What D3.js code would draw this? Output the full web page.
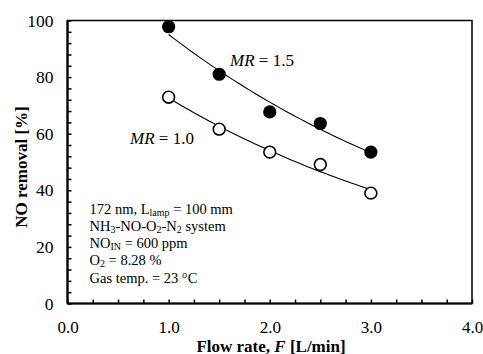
<!DOCTYPE html>
<html>
<head>
<meta charset="utf-8">
<script src="https://cdn.jsdelivr.net/npm/d3@7"></script>
<style>
  body { margin: 0; background: #fff; }
</style>
</head>
<body>
<div id="chart"></div>
<script>
const flowRates = [1.0, 1.5, 2.0, 2.5, 3.0];
const removalMR15 = [97.8, 81.0, 67.7, 63.6, 53.5];
const removalMR10 = [72.9, 61.6, 53.5, 49.1, 39.0];
const xTicks = [0, 1, 2, 3, 4];
const yTicks = [0, 20, 40, 60, 80, 100];

const serif = "'Liberation Serif', 'Times New Roman', serif";
const width = 483, height = 354;
const margin = { top: 20.5, right: 11, bottom: 50.5, left: 67.5 };
const w = width - margin.left - margin.right;
const h = height - margin.top - margin.bottom;

const svg = d3.select("#chart").append("svg")
  .attr("width", width)
  .attr("height", height)
  .style("font-family", serif);

const g = svg.append("g").attr("transform", `translate(${margin.left},${margin.top})`);
const x = d3.scaleLinear().domain([0, 4]).range([0, w]);
const y = d3.scaleLinear().domain([0, 100]).range([h, 0]);

// frame
g.append("rect").attr("width", w).attr("height", h)
  .attr("fill", "none").attr("stroke", "#000").attr("stroke-width", 1.5);

// minor ticks (inward)
g.append("g")
  .attr("transform", `translate(0,${h})`)
  .call(d3.axisTop(x).tickValues(d3.range(0, 4.001, 0.25)).tickSize(4).tickFormat(""))
  .call(a => a.select(".domain").remove())
  .selectAll("line").attr("stroke-width", 1.5);

g.append("g")
  .call(d3.axisRight(y).tickValues(d3.range(0, 100.1, 4)).tickSize(4).tickFormat(""))
  .call(a => a.select(".domain").remove())
  .selectAll("line").attr("stroke-width", 1.5);

// thick left/bottom axis lines
g.append("line").attr("x1", 0).attr("x2", 0).attr("y1", 0).attr("y2", h)
  .attr("stroke", "#000").attr("stroke-width", 2.2);
g.append("line").attr("x1", 0).attr("x2", w).attr("y1", h).attr("y2", h)
  .attr("stroke", "#000").attr("stroke-width", 2.2);

// tick labels
const xAxis = g.append("g")
  .attr("transform", `translate(0,${h})`)
  .call(d3.axisBottom(x).tickValues(xTicks).tickSize(0).tickPadding(17).tickFormat(d3.format(".1f")));
xAxis.select(".domain").remove();
xAxis.attr("font-family", serif).attr("font-size", 17);

const yAxis = g.append("g")
  .call(d3.axisLeft(y).tickValues(yTicks).tickSize(0).tickPadding(14).tickFormat(d3.format("d")));
yAxis.select(".domain").remove();
yAxis.attr("font-family", serif).attr("font-size", 17.5);

// axis titles
const xt = svg.append("text")
  .attr("x", 271).attr("y", 351.5)
  .attr("text-anchor", "middle")
  .style("font-size", "17px").style("font-weight", "bold");
xt.append("tspan").text("Flow rate, ");
xt.append("tspan").style("font-style", "italic").text("F");
xt.append("tspan").text(" [L/min]");

svg.append("text")
  .attr("transform", "translate(26.5,167) rotate(-90)")
  .attr("text-anchor", "middle")
  .style("font-size", "17px").style("font-weight", "bold")
  .text("NO removal [%]");

// exponential trendlines (least squares on log values)
function expFit(xs, ys) {
  const lx = d3.mean(xs), ly = d3.mean(ys, v => Math.log(v));
  const b = d3.sum(xs, (v, i) => (v - lx) * (Math.log(ys[i]) - ly)) / d3.sum(xs, v => (v - lx) ** 2);
  const a = Math.exp(ly - b * lx);
  return t => a * Math.exp(b * t);
}
const line = d3.line().x(d => x(d[0])).y(d => y(d[1]));
[removalMR15, removalMR10].forEach(vals => {
  const f = expFit(flowRates, vals);
  const pts = d3.range(0, 41).map(i => {
    const t = flowRates[0] + (flowRates[flowRates.length - 1] - flowRates[0]) * i / 40;
    return [t, f(t)];
  });
  g.append("path").attr("d", line(pts))
    .attr("fill", "none").attr("stroke", "#000").attr("stroke-width", 1.1);
});

// markers
g.selectAll(".mr15").data(flowRates).enter().append("circle")
  .attr("cx", d => x(d)).attr("cy", (d, i) => y(removalMR15[i]))
  .attr("r", 6.6).attr("fill", "#000");
g.selectAll(".mr10").data(flowRates).enter().append("circle")
  .attr("cx", d => x(d)).attr("cy", (d, i) => y(removalMR10[i]))
  .attr("r", 5.9).attr("fill", "#fff").attr("stroke", "#000").attr("stroke-width", 1.6);

// series labels
function mrLabel(px, py, val) {
  const t = svg.append("text").attr("x", px).attr("y", py).style("font-size", "17px");
  t.append("tspan").style("font-style", "italic").text("MR");
  t.append("tspan").text(" = " + val);
}
mrLabel(230, 66, "1.5");
mrLabel(130, 144, "1.0");

// conditions block
const notes = svg.append("g").style("font-size", "14.5px");
const sub = (t, s) => t.append("tspan").attr("baseline-shift", "-22%").style("font-size", "10px").text(s);
let t = notes.append("text").attr("x", 89.5).attr("y", 213.5);
t.append("tspan").text("172 nm, L"); sub(t, "lamp"); t.append("tspan").text(" = 100 mm");
t = notes.append("text").attr("x", 89.5).attr("y", 230.8);
t.append("tspan").text("NH"); sub(t, "3"); t.append("tspan").text("-NO-O"); sub(t, "2");
t.append("tspan").text("-N"); sub(t, "2"); t.append("tspan").text(" system");
t = notes.append("text").attr("x", 89.5).attr("y", 248.1);
t.append("tspan").text("NO"); sub(t, "IN"); t.append("tspan").text(" = 600 ppm");
t = notes.append("text").attr("x", 89.5).attr("y", 265.4);
t.append("tspan").text("O"); sub(t, "2"); t.append("tspan").text(" = 8.28 %");
notes.append("text").attr("x", 89.5).attr("y", 282.7).text("Gas temp. = 23 °C");
</script>
</body>
</html>
